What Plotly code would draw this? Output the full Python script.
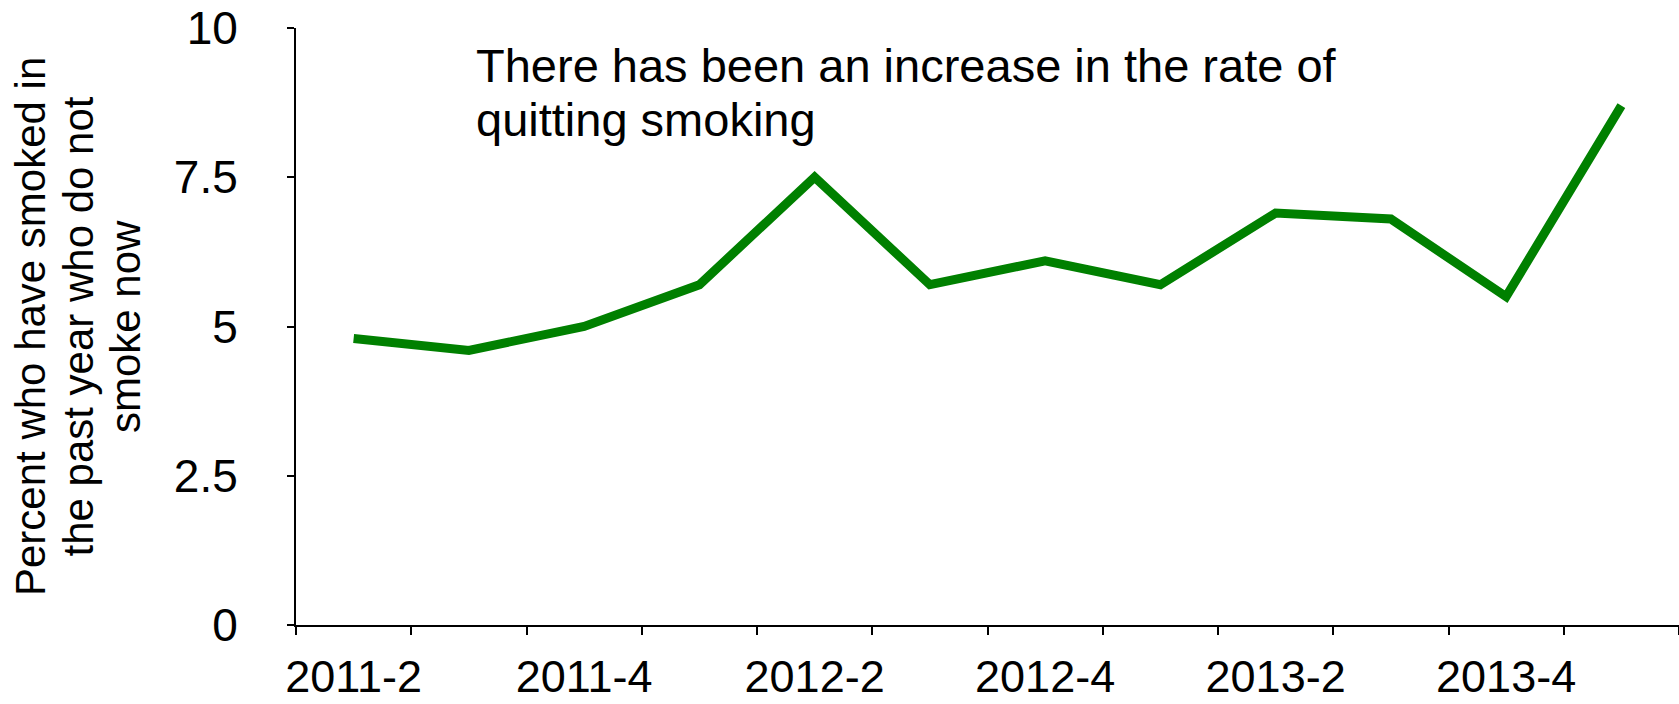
import plotly.graph_objects as go

# Quarterly survey periods and the share of past-year smokers who have quit
quarters = ["2011-2", "2011-3", "2011-4", "2012-1", "2012-2", "2012-3",
            "2012-4", "2013-1", "2013-2", "2013-3", "2013-4", "2014-1"]
quit_rate = [4.8, 4.6, 5.0, 5.7, 7.5, 5.7, 6.1, 5.7, 6.9, 6.8, 5.5, 8.7]

# Only every other quarter gets a label on the x axis
shown_quarters = ["2011-2", "2011-4", "2012-2", "2012-4", "2013-2", "2013-4"]

y_ticks = [0, 2.5, 5, 7.5, 10]
y_tick_text = ["0", "2.5", "5", "7.5", "10"]

y_title_lines = ["Percent who have smoked in",
                 "the past year who do not",
                 "smoke now"]
note_lines = ["There has been an increase in the rate of",
              "quitting smoking"]

FONT = "Liberation Sans, Arial, sans-serif"

W, H = 1679, 704
M_L, M_R, M_T, M_B = 296, 0, 28, 79
plot_w = W - M_L - M_R
plot_h = H - M_T - M_B


def px_x(px):
    return (px - M_L) / plot_w


def px_y(py):
    return (H - M_B - py) / plot_h


fig = go.Figure()
fig.add_trace(go.Scatter(
    x=quarters,
    y=quit_rate,
    mode="lines",
    line=dict(color="#008000", width=9),
    hoverinfo="x+y",
    showlegend=False,
))

annotations = []
# Rotated, centred y-axis title, one line per annotation
for i, line in enumerate(y_title_lines):
    annotations.append(dict(
        text=line, textangle=-90, showarrow=False,
        xref="paper", yref="paper",
        x=px_x(30.5 + 47.5 * i), y=0.5,
        xanchor="center", yanchor="middle",
        font=dict(family=FONT, size=42, color="black"),
    ))
# Headline note inside the plot
for i, line in enumerate(note_lines):
    annotations.append(dict(
        text=line, showarrow=False,
        xref="paper", yref="paper",
        x=px_x(474), y=px_y(65.5 + 54 * i),
        xanchor="left", yanchor="middle",
        font=dict(family=FONT, size=47, color="black"),
    ))

fig.update_layout(
    width=W, height=H,
    margin=dict(l=M_L, r=M_R, t=M_T, b=M_B, pad=0),
    paper_bgcolor="white", plot_bgcolor="white",
    font=dict(family=FONT, color="black"),
    annotations=annotations,
    xaxis=dict(
        type="category",
        categoryorder="array", categoryarray=quarters,
        range=[-0.5, len(quarters) - 0.5],
        tickmode="array",
        tickvals=quarters,
        ticktext=[q if q in shown_quarters else "" for q in quarters],
        tickson="boundaries",
        tickangle=0,
        ticks="outside", ticklen=8, tickwidth=2, tickcolor="black",
        showline=True, linecolor="black", linewidth=2,
        showgrid=False, zeroline=False,
        tickfont=dict(family=FONT, size=45, color="black"),
        ticklabelstandoff=11,
        automargin=False,
        fixedrange=True,
    ),
    yaxis=dict(
        range=[0, 10],
        tickmode="array", tickvals=y_ticks, ticktext=y_tick_text,
        ticks="outside", ticklen=7, tickwidth=2, tickcolor="black",
        showline=True, linecolor="black", linewidth=2,
        showgrid=False, zeroline=False,
        tickfont=dict(family=FONT, size=46, color="black"),
        ticklabelstandoff=40,
        automargin=False,
        fixedrange=True,
    ),
)

fig.write_html("out.html", config={"displayModeBar": False})
